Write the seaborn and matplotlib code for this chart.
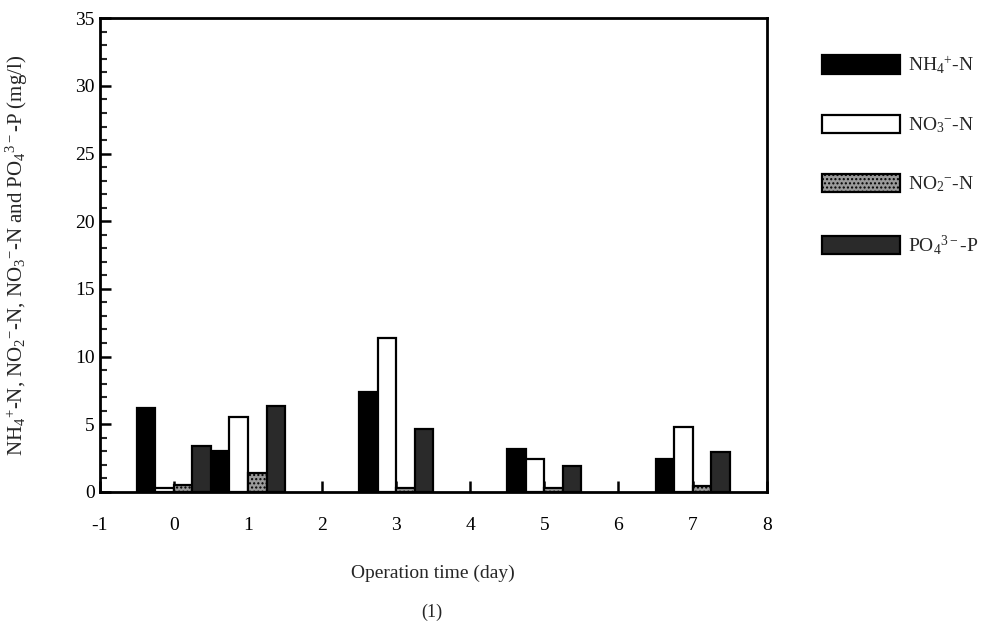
import matplotlib
matplotlib.use("Agg")
import matplotlib.pyplot as plt
from matplotlib.patches import Patch
from matplotlib.ticker import MultipleLocator
import seaborn as sns
import pandas as pd

# data
days = [0, 1, 3, 5, 7]
nh4 = [6.2, 3.0, 7.4, 3.2, 2.4]
no3 = [0.3, 5.5, 11.4, 2.4, 4.8]
no2 = [0.5, 1.4, 0.3, 0.3, 0.4]
po4 = [3.4, 6.35, 4.65, 1.9, 2.95]
series = ["NH$_4$$^{+}$-N", "NO$_3$$^{-}$-N", "NO$_2$$^{-}$-N", "PO$_4$$^{3-}$-P"]

colors = ["#000000", "#ffffff", "#9a9a9a", "#2a2a2a"]
hatches = ["", "", "....", ""]

sns.set_style("ticks")
plt.rcParams["font.family"] = ["Liberation Serif", "DejaVu Serif"]
plt.rcParams["mathtext.fontset"] = "custom"
plt.rcParams["mathtext.rm"] = "Liberation Serif"
plt.rcParams["mathtext.it"] = "Liberation Serif"
plt.rcParams["mathtext.bf"] = "Liberation Serif:bold"
plt.rcParams["axes.unicode_minus"] = False

df = pd.DataFrame({
    "day": days * 4,
    "value": nh4 + no3 + no2 + po4,
    "series": [s for s in series for _ in days],
})

fig = plt.figure(figsize=(9.88, 6.29), dpi=100)
ax = fig.add_axes([0.101, 0.218, 0.675, 0.753])

sns.barplot(data=df, x="day", y="value", hue="series", hue_order=series,
            palette=colors, native_scale=True, width=1.0, ax=ax,
            legend=False, errorbar=None, saturation=1)

for cont, h in zip(ax.containers, hatches):
    for bar in cont:
        bar.set_edgecolor("black")
        bar.set_linewidth(1.6)
        bar.set_hatch(h)

ax.set_xlim(-1, 8)
ax.set_ylim(0, 35)
ax.xaxis.set_major_locator(MultipleLocator(1))
ax.yaxis.set_major_locator(MultipleLocator(5))
ax.yaxis.set_minor_locator(MultipleLocator(1))
ax.tick_params(axis="both", which="major", direction="in", length=8, width=1.8,
               labelsize=14, colors="black")
ax.tick_params(axis="y", which="minor", direction="in", length=5, width=1.5)
ax.tick_params(axis="x", pad=18)

for sp in ax.spines.values():
    sp.set_visible(True)
    sp.set_linewidth(2)
    sp.set_color("black")

ax.set_xlabel("Operation time (day)", fontsize=14, labelpad=22)
ax.set_ylabel("NH$_4$$^{+}$-N, NO$_2$$^{-}$-N, NO$_3$$^{-}$-N and PO$_4$$^{3-}$-P (mg/l)",
              fontsize=15)
ax.yaxis.set_label_coords(-0.105, 0.5)

fig.text(0.437, 0.027, "(1)", fontsize=13, ha="center", va="center")

handles = [Patch(facecolor=c, edgecolor="black", hatch=h, linewidth=1.6)
           for c, h in zip(colors, hatches)]
ax.legend(handles, series, loc="upper left", bbox_to_anchor=(1.072, 0.94),
          frameon=False, fontsize=14, handlelength=4.0, handleheight=1.05,
          labelspacing=2.0, handletextpad=0.4, borderaxespad=0)

fig.savefig("out.png", dpi=100)
